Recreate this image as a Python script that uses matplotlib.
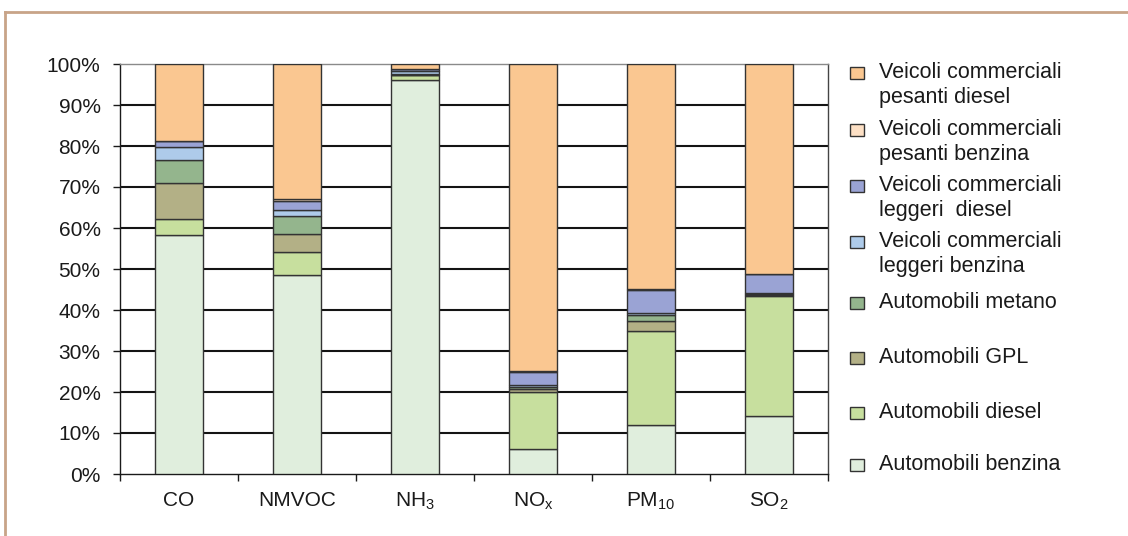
import matplotlib
matplotlib.use("Agg")
import matplotlib.pyplot as plt
from matplotlib.patches import Rectangle
from matplotlib.lines import Line2D
from matplotlib.ticker import FixedLocator, FuncFormatter

plt.rcParams["font.family"] = ["Liberation Sans", "DejaVu Sans"]
plt.rcParams["mathtext.default"] = "regular"

# Pollutants on the x axis
categories = ["CO", "NMVOC", "NH$_3$", "NO$_x$", "PM$_{10}$", "SO$_2$"]

# Share of emissions (%) by vehicle class, stacked from the bottom up
automobili_benzina = [58.2, 48.6, 96.2, 6.2, 12.0, 14.2]
automobili_diesel = [3.9, 5.6, 1.0, 13.9, 22.8, 29.3]
automobili_gpl = [8.9, 4.4, 0.2, 0.7, 2.4, 0.2]
automobili_metano = [5.7, 4.4, 0.1, 0.4, 1.7, 0.2]
vc_leggeri_benzina = [3.1, 1.4, 0.7, 0.5, 0.3, 0.3]
vc_leggeri_diesel = [1.3, 2.3, 0.6, 3.3, 5.8, 4.5]
vc_pesanti_benzina = [0.2, 0.3, 0.1, 0.1, 0.1, 0.1]
vc_pesanti_diesel = [18.7, 33.0, 1.1, 74.9, 54.9, 51.2]

series = [
    ("Automobili benzina", automobili_benzina, "#e0eedd"),
    ("Automobili diesel", automobili_diesel, "#c7df9e"),
    ("Automobili GPL", automobili_gpl, "#b3b086"),
    ("Automobili metano", automobili_metano, "#94b58d"),
    ("Veicoli commerciali\nleggeri benzina", vc_leggeri_benzina, "#aecbea"),
    ("Veicoli commerciali\nleggeri  diesel", vc_leggeri_diesel, "#9aa3d4"),
    ("Veicoli commerciali\npesanti benzina", vc_pesanti_benzina, "#fde0c5"),
    ("Veicoli commerciali\npesanti diesel", vc_pesanti_diesel, "#fac791"),
]

y_ticks = list(range(0, 101, 10))

W, H = 1128, 536
fig = plt.figure(figsize=(W / 100, H / 100), dpi=100)
fig.patch.set_facecolor("white")

ax = fig.add_axes([120 / W, 1 - 474 / H, 708 / W, 410 / H])

x = list(range(len(categories)))
bottom = [0.0] * len(categories)
for name, vals, color in series:
    ax.bar(x, vals, width=0.41, bottom=bottom, color=color,
           edgecolor="#333333", linewidth=1.0, zorder=3)
    bottom = [b + v for b, v in zip(bottom, vals)]

ax.set_xlim(-0.5, len(categories) - 0.5)
ax.set_ylim(0, 100)

# horizontal gridlines behind the bars
for t in y_ticks[1:-1]:
    ax.axhline(t, color="#141414", linewidth=1.5, zorder=1)

ax.yaxis.set_major_locator(FixedLocator(y_ticks))
ax.yaxis.set_major_formatter(FuncFormatter(lambda v, p: f"{int(v)}%"))
ax.tick_params(axis="y", direction="out", length=5, width=1.0,
               labelsize=15, pad=9, colors="#1a1a1a")

ax.set_xticks(x)
ax.set_xticklabels(categories)
ax.tick_params(axis="x", which="major", length=0, pad=12, labelsize=15,
               colors="#1a1a1a")
ax.set_xticks([i - 0.5 for i in range(len(categories) + 1)], minor=True)
ax.tick_params(axis="x", which="minor", direction="out", length=5, width=1.0,
               color="#1a1a1a")

for side in ("left", "bottom"):
    ax.spines[side].set_color("#1a1a1a")
    ax.spines[side].set_linewidth(1.0)
ax.spines["top"].set_color("#8a8a8a")
ax.spines["top"].set_linewidth(1.0)
ax.spines["right"].set_color("#444444")
ax.spines["right"].set_linewidth(1.0)

# legend drawn on the right side, top entry = top of the stack
legend_rows = [73, 130, 186, 242, 303, 358, 413, 465]
for (name, vals, color), yrow in zip(reversed(series), legend_rows):
    fig.add_artist(Rectangle((850 / W, 1 - (yrow + 6) / H), 14 / W, 12 / H,
                             transform=fig.transFigure, facecolor=color,
                             edgecolor="#333333", linewidth=1.0))
    fig.text(879 / W, 1 - (yrow - 11) / H, name, fontsize=15.5, va="top",
             ha="left", color="#1a1a1a", linespacing=1.22)

# frame lines along the top and left edges
frame = "#c8a488"
fig.add_artist(Line2D([5 / W, 1.0], [1 - 12 / H, 1 - 12 / H],
                      transform=fig.transFigure, color=frame, linewidth=2))
fig.add_artist(Line2D([5 / W, 5 / W], [0.0, 1 - 12 / H],
                      transform=fig.transFigure, color=frame, linewidth=2))

fig.savefig("out.png", dpi=100, facecolor="white")
